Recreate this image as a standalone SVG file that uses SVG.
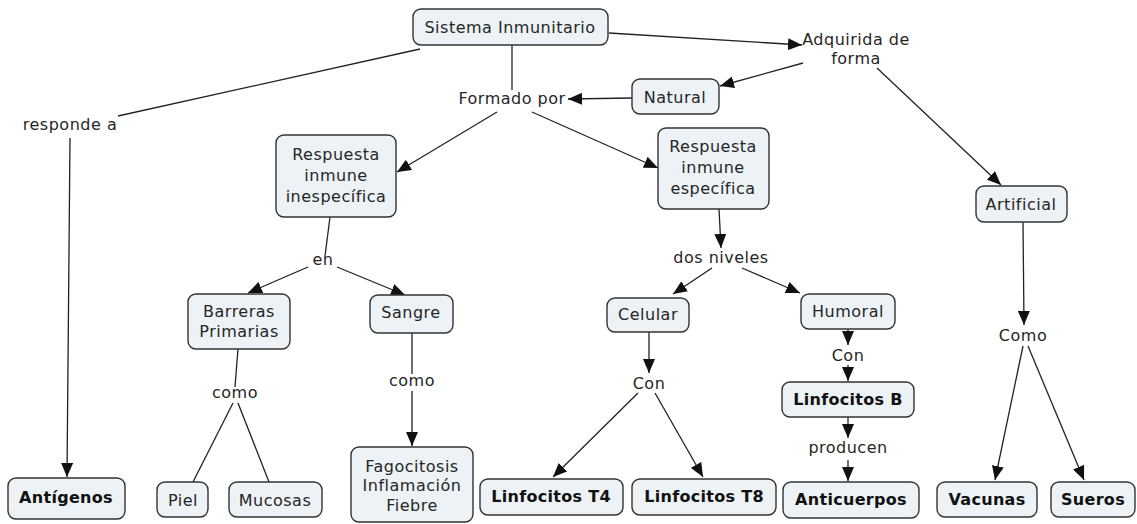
<svg xmlns="http://www.w3.org/2000/svg" width="1137" height="524" viewBox="0 0 1137 524">
<style>
.box{fill:#ecf2f5;stroke:#333;stroke-width:1.4}
.t{font-family:"DejaVu Sans",Verdana,sans-serif;font-size:16px;letter-spacing:0.5px;fill:#262626;text-anchor:middle}
.b{font-weight:bold;letter-spacing:0.3px;fill:#111}
.c{stroke:#222;stroke-width:1.3;fill:none}
.a{marker-end:url(#ah)}
</style>
<defs>
<marker id="ah" viewBox="0 0 14 12" refX="14" refY="6" markerWidth="14" markerHeight="12" markerUnits="userSpaceOnUse" orient="auto">
<path d="M0,0 L14,6 L0,12 z" fill="#111"/>
</marker>
</defs>
<rect width="1137" height="524" fill="#fff"/>
<g id="connectors">
<line class="c a" x1="609" y1="33" x2="802" y2="45"/>
<line class="c a" x1="803" y1="63" x2="720" y2="86"/>
<line class="c a" x1="632" y1="98" x2="568" y2="99"/>
<line class="c" x1="512" y1="45" x2="512" y2="90"/>
<line class="c a" x1="497" y1="112" x2="397" y2="172"/>
<line class="c a" x1="532" y1="112" x2="658" y2="168"/>
<line class="c" x1="420" y1="49" x2="118" y2="116"/>
<line class="c a" x1="70" y1="138" x2="67" y2="477"/>
<line class="c" x1="330" y1="217" x2="325" y2="256"/>
<line class="c a" x1="308" y1="267" x2="248" y2="293"/>
<line class="c a" x1="337" y1="267" x2="405" y2="295"/>
<line class="c" x1="238" y1="349" x2="235" y2="387"/>
<line class="c" x1="233" y1="403" x2="193" y2="482"/>
<line class="c" x1="238" y1="403" x2="269" y2="482"/>
<line class="c" x1="412" y1="333" x2="412" y2="374"/>
<line class="c a" x1="412" y1="391" x2="412" y2="446"/>
<line class="c a" x1="719" y1="209" x2="721" y2="248"/>
<line class="c a" x1="712" y1="268" x2="673" y2="294"/>
<line class="c a" x1="742" y1="268" x2="800" y2="293"/>
<line class="c a" x1="649" y1="332" x2="649" y2="373"/>
<line class="c a" x1="638" y1="393" x2="553" y2="477"/>
<line class="c a" x1="655" y1="393" x2="703" y2="477"/>
<line class="c a" x1="848" y1="329" x2="848" y2="345"/>
<line class="c a" x1="848" y1="365" x2="848" y2="381"/>
<line class="c a" x1="848" y1="417" x2="848" y2="438"/>
<line class="c a" x1="848" y1="460" x2="848" y2="481"/>
<line class="c a" x1="877" y1="68" x2="1001" y2="185"/>
<line class="c a" x1="1023" y1="222" x2="1024" y2="325"/>
<line class="c a" x1="1023" y1="346" x2="995" y2="480"/>
<line class="c a" x1="1028" y1="346" x2="1084" y2="480"/>
</g>
<g id="lbl-formado"><text class="t" x="512" y="104">Formado por</text></g>
<g id="lbl-adquirida"><text class="t" x="856" y="45">Adquirida de</text><text class="t" x="856" y="64">forma</text></g>
<g id="lbl-responde"><text class="t" x="70" y="130">responde a</text></g>
<g id="lbl-en"><text class="t" x="323" y="265">en</text></g>
<g id="lbl-como1"><text class="t" x="235" y="398">como</text></g>
<g id="lbl-como2"><text class="t" x="412" y="386">como</text></g>
<g id="lbl-dos"><text class="t" x="721" y="263">dos niveles</text></g>
<g id="lbl-con1"><text class="t" x="649" y="389">Con</text></g>
<g id="lbl-con2"><text class="t" x="848" y="361">Con</text></g>
<g id="lbl-producen"><text class="t" x="848" y="453">producen</text></g>
<g id="lbl-como3"><text class="t" x="1023" y="341">Como</text></g>
<g id="n-sistema"><rect class="box" x="413" y="9" width="195" height="36" rx="8"/><text class="t" x="510" y="33">Sistema Inmunitario</text></g>
<g id="n-natural"><rect class="box" x="632" y="79" width="87" height="35" rx="8"/><text class="t" x="675" y="103">Natural</text></g>
<g id="n-inesp"><rect class="box" x="276" y="135" width="120" height="82" rx="8"/><text class="t" x="336" y="160">Respuesta</text><text class="t" x="336" y="181">inmune</text><text class="t" x="336" y="202">inespecífica</text></g>
<g id="n-esp"><rect class="box" x="658" y="128" width="111" height="81" rx="8"/><text class="t" x="713" y="152">Respuesta</text><text class="t" x="713" y="173">inmune</text><text class="t" x="713" y="194">específica</text></g>
<g id="n-artificial"><rect class="box" x="976" y="186" width="91" height="36" rx="8"/><text class="t" x="1021" y="210">Artificial</text></g>
<g id="n-barreras"><rect class="box" x="188" y="294" width="102" height="55" rx="8"/><text class="t" x="239" y="317">Barreras</text><text class="t" x="239" y="337">Primarias</text></g>
<g id="n-sangre"><rect class="box" x="370" y="295" width="83" height="38" rx="8"/><text class="t" x="411" y="318">Sangre</text></g>
<g id="n-celular"><rect class="box" x="607" y="298" width="82" height="34" rx="8"/><text class="t" x="648" y="320">Celular</text></g>
<g id="n-humoral"><rect class="box" x="801" y="294" width="94" height="35" rx="8"/><text class="t" x="848" y="317">Humoral</text></g>
<g id="n-linfb"><rect class="box" x="782" y="382" width="132" height="35" rx="8"/><text class="t b" x="848" y="405">Linfocitos B</text></g>
<g id="n-antigenos"><rect class="box" x="8" y="478" width="117" height="41" rx="8"/><text class="t b" x="66" y="503">Antígenos</text></g>
<g id="n-piel"><rect class="box" x="157" y="482" width="51" height="35" rx="8"/><text class="t" x="183" y="506">Piel</text></g>
<g id="n-mucosas"><rect class="box" x="229" y="482" width="93" height="35" rx="8"/><text class="t" x="275" y="506">Mucosas</text></g>
<g id="n-fago"><rect class="box" x="351" y="447" width="122" height="75" rx="8"/><text class="t" x="412" y="472">Fagocitosis</text><text class="t" x="412" y="491">Inflamación</text><text class="t" x="412" y="511">Fiebre</text></g>
<g id="n-t4"><rect class="box" x="480" y="479" width="143" height="36" rx="8"/><text class="t b" x="551" y="502">Linfocitos T4</text></g>
<g id="n-t8"><rect class="box" x="632" y="479" width="144" height="36" rx="8"/><text class="t b" x="704" y="502">Linfocitos T8</text></g>
<g id="n-anticuerpos"><rect class="box" x="783" y="482" width="136" height="36" rx="8"/><text class="t b" x="851" y="505">Anticuerpos</text></g>
<g id="n-vacunas"><rect class="box" x="937" y="482" width="100" height="35" rx="8"/><text class="t b" x="987" y="505">Vacunas</text></g>
<g id="n-sueros"><rect class="box" x="1051" y="482" width="84" height="35" rx="8"/><text class="t b" x="1093" y="505">Sueros</text></g>
</svg>
